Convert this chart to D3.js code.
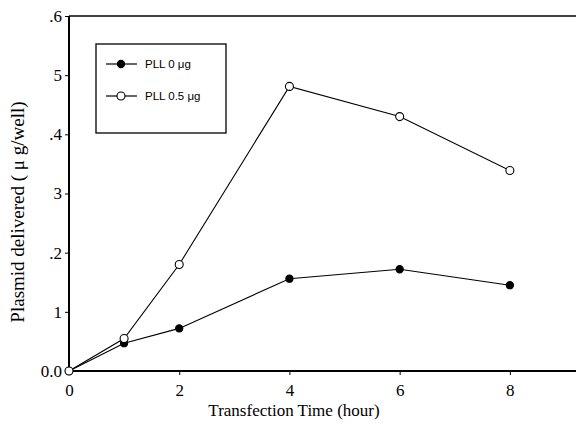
<!DOCTYPE html>
<html><head><meta charset="utf-8">
<script src="https://cdn.jsdelivr.net/npm/d3@7"></script>
<style>body{margin:0;background:#fff}svg{display:block}</style>
</head><body>
<svg id="c" width="576" height="443"></svg>
<script>
const hours = [0, 1, 2, 4, 6, 8];
const pll0 = [0, 0.047, 0.072, 0.156, 0.172, 0.145];
const pll05 = [0, 0.055, 0.180, 0.481, 0.430, 0.339];
const seriesNames = ["PLL  0 μg", "PLL 0.5 μg"];
const xTicks = [0, 2, 4, 6, 8];
const yTicks = [0, 0.1, 0.2, 0.3, 0.4, 0.5, 0.6];
const yTickLabels = ["0.0", "1", ".2", "3", ".4", "5", ".6"];

const svg = d3.select("#c");
const font = "'Liberation Serif','DejaVu Serif',serif";
const x = d3.scaleLinear().domain([0, 9.2]).range([69, 576]);
const y = d3.scaleLinear().domain([0, 0.6]).range([371, 16]);

// frame
svg.append("line").attr("x1", x(0)).attr("x2", 576).attr("y1", y(0.6)).attr("y2", y(0.6))
  .attr("stroke", "#000").attr("stroke-width", 1.5);

const xa = svg.append("g").attr("transform", `translate(0,${y(0)})`)
  .call(d3.axisBottom(x).tickValues(xTicks).tickSize(4).tickPadding(9).tickFormat(d3.format("d")));
const ya = svg.append("g").attr("transform", `translate(${x(0)},0)`)
  .call(d3.axisLeft(y).tickValues(yTicks).tickSize(4).tickPadding(3).tickFormat((d, i) => yTickLabels[i]));
[xa, ya].forEach(a => {
  a.selectAll("text").attr("font-family", font).attr("font-size", 17).attr("fill", "#000");
  a.selectAll(".tick line").attr("stroke-width", 1);
});
xa.select(".domain").remove();
ya.select(".domain").remove();
svg.append("line").attr("x1", x(0)).attr("x2", 576).attr("y1", y(0)).attr("y2", y(0)).attr("stroke", "#000").attr("stroke-width", 2);
svg.append("line").attr("x1", x(0)).attr("x2", x(0)).attr("y1", y(0)).attr("y2", y(0.6)).attr("stroke", "#000").attr("stroke-width", 2);

const line = d3.line().x(d => x(d[0])).y(d => y(d[1]));
const data = [pll0, pll05].map(v => hours.map((h, i) => [h, v[i]]));
data.forEach((pts, k) => {
  svg.append("path").datum(pts).attr("d", line).attr("fill", "none").attr("stroke", "#000").attr("stroke-width", 1.1);
});
data.forEach((pts, k) => {
  svg.selectAll(null).data(pts).enter().append("circle")
    .attr("cx", d => x(d[0])).attr("cy", d => y(d[1])).attr("r", k === 0 ? 3.6 : 4)
    .attr("fill", k === 0 ? "#000" : "#fff").attr("stroke", "#000").attr("stroke-width", 1.1);
});

// legend
const lg = svg.append("g");
lg.append("rect").attr("x", 96).attr("y", 44).attr("width", 130).attr("height", 89)
  .attr("fill", "#fff").attr("stroke", "#000").attr("stroke-width", 1.3);
seriesNames.forEach((n, k) => {
  const yy = 64 + k * 32;
  lg.append("line").attr("x1", 106).attr("x2", 137).attr("y1", yy).attr("y2", yy).attr("stroke", "#000").attr("stroke-width", 1.2);
  lg.append("circle").attr("cx", 121).attr("cy", yy).attr("r", k === 0 ? 3.6 : 4)
    .attr("fill", k === 0 ? "#000" : "#fff").attr("stroke", "#000").attr("stroke-width", 1.1);
  lg.append("text").attr("x", 145).attr("y", yy + 4).text(n)
    .attr("font-family", "'Liberation Sans',Arial,sans-serif").attr("font-size", 11.5);
});

svg.append("text").attr("x", 294).attr("y", 416).attr("text-anchor", "middle")
  .attr("font-family", font).attr("font-size", 17).text("Transfection  Time (hour)");
svg.append("text").attr("transform", `translate(24,212) rotate(-90)`).attr("text-anchor", "middle")
  .attr("font-family", font).attr("font-size", 19).text("Plasmid delivered ( μ g/well)");
</script>
</body></html>
